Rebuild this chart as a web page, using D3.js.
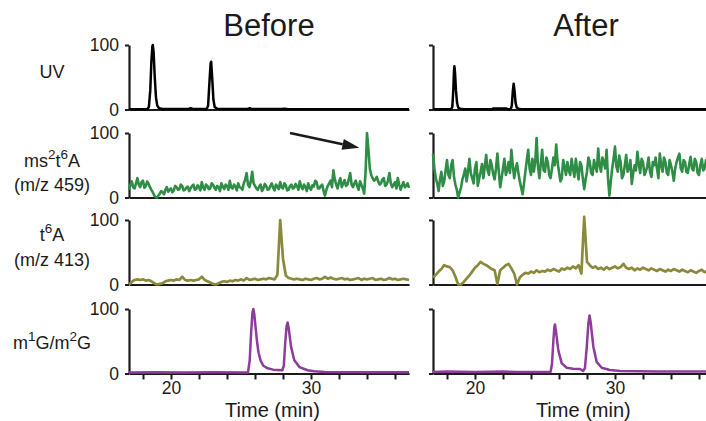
<!DOCTYPE html>
<html>
<head>
<meta charset="utf-8">
<script src="https://cdn.jsdelivr.net/npm/d3@7"></script>
<style>
body { margin: 0; background: #fff; }
svg { display: block; font-family: "Liberation Sans", Arial, sans-serif; }
</style>
</head>
<body>
<svg id="chart" width="706" height="421"></svg>
<script>
/* global d3, document */

// MS traces are read on a fixed time grid (min)
var gridStart = 17;
var fineStep = 0.1;
var coarseStep = 0.2;

// UV and m1G/m2G traces: [time, relative intensity]
var uvBefore = [[17,0.5],[18.3,0.5],[18.42,4],[18.52,30],[18.6,75],[18.67,98],[18.7,100],[18.76,88],[18.84,50],[18.93,18],[19.02,6],[19.15,2],[19.4,0.8],[21.2,0.6],[21.4,2],[21.6,0.6],[22.55,0.6],[22.65,6],[22.74,40],[22.83,72],[22.87,74],[22.94,50],[23.03,15],[23.12,4],[23.3,1],[25.45,0.6],[25.62,2],[25.8,0.6],[27.9,0.6],[28.1,1.2],[28.3,0.6],[37,0.5]];
var uvAfter = [[17,0.5],[18.3,0.5],[18.38,4],[18.45,30],[18.5,60],[18.53,67],[18.57,58],[18.64,30],[18.72,10],[18.8,3],[18.95,1],[19.2,0.5],[21.25,0.5],[21.3,1.5],[22.25,1.5],[22.3,0.5],[22.55,0.6],[22.63,6],[22.7,28],[22.76,40],[22.82,30],[22.9,10],[22.98,3],[23.1,1],[23.3,0.5],[37,0.5]];

var m1gBefore = [[17,1.5],[19,2],[21,1.5],[23,2],[25.5,1.5],[25.62,20],[25.72,62],[25.82,95],[25.88,100],[25.95,92],[26.04,72],[26.14,50],[26.25,33],[26.4,20],[26.6,12],[26.9,8],[27.3,6],[27.95,5],[28.06,12],[28.16,48],[28.26,74],[28.33,79],[28.41,70],[28.57,42],[28.8,21],[29.17,10],[29.76,5],[30.24,3.5],[31,2.5],[34,2],[37,2]];
var m1gAfter = [[17,2.5],[18,3],[20,2.5],[22,3],[23,2.5],[25.4,2.5],[25.5,15],[25.6,52],[25.67,72],[25.71,76],[25.78,66],[25.95,36],[26.19,16],[26.55,9],[27.0,7.5],[27.5,7],[27.72,4],[27.85,8],[27.98,40],[28.1,78],[28.18,90],[28.26,80],[28.45,42],[28.69,18],[29.05,9],[29.64,5.5],[30.36,4],[33,3],[37,3]];

// ms2t6A (m/z 459), 0.1 min grid
var ms459Before = [
  12,20, 25,16, 14,22, 30,20, 16,24, 26,15, 18,25, 21,16, 12,8, 3,1,
  0,3, 6,10, 8,5, 12,16, 9,12, 14,8, 11,18, 16,12, 13,20, 18,11,
  12,15, 17,10, 14,18, 20,12, 13,19, 16,11, 24,15, 12,20, 18,13, 14,22,
  20,15, 12,18, 16,10, 22,17, 13,20, 18,12, 26,16, 14,20, 17,11, 22,16,
  15,12, 22,28, 38,20, 16,25, 40,22, 18,14, 12,17, 20,10, 14,21, 18,12,
  13,18, 22,15, 11,20, 17,13, 24,16, 14,22, 19,11, 12,18, 20,14, 15,21,
  18,12, 25,17, 13,20, 16,10, 22,15, 12,19, 17,26, 24,14, 14,18, 20,10,
  3,12, 18,22, 26,16, 42,28, 20,14, 24,30, 16,22, 27,18, 20,28, 38,20,
  16,22, 26,18, 12,25, 20,14, 6,40, 100,75, 45,35, 30,26, 28,32, 25,20,
  22,28, 30,18, 20,26, 38,22, 16,20, 24,14, 30,20, 12,18, 24,16, 18,22,
  15
];
var ms459After = [
  68,45, 30,22, 10,28, 40,18, 25,42, 58,35, 30,50, 58,32, 20,12, 0,8,
  15,28, 35,45, 25,40, 60,38, 30,22, 45,55, 18,30, 40,52, 30,48, 66,42,
  35,58, 50,36, 28,45, 68,40, 16,30, 45,60, 35,42, 55,38, 74,50, 30,44,
  53,38, 25,15, 5,22, 40,58, 74,45, 35,60, 40,55, 92,48, 30,52, 74,42,
  40,62, 55,35, 30,45, 62,50, 82,55, 40,25, 30,58, 48,35, 55,42, 35,60,
  45,32, 60,42, 28,55, 50,30, 13,28, 40,62, 55,38, 35,58, 48,40, 76,50,
  40,62, 55,45, 74,30, 3,25, 45,60, 79,48, 40,65, 55,30, 35,50, 66,40,
  45,58, 21,38, 50,42, 71,52, 38,60, 55,35, 40,48, 62,40, 32,55, 50,62,
  45,30, 68,50, 40,62, 55,38, 35,58, 50,40, 26,45, 55,62, 68,45, 40,58,
  55,40, 38,52, 63,45, 42,60, 55,38, 35,50, 60,42, 45,58, 52,38, 40,55,
  50
];

// t6A (m/z 413), 0.2 min grid
var ms413Before = [
  0, 4, 7, 8, 7, 8, 6, 7, 5, 2,
  0, 1, 2, 5, 6, 7, 6, 8, 7, 12,
  7, 6, 7, 6, 7, 8, 12, 7, 5, 3,
  1, 0, 2, 4, 5, 4, 6, 5, 7, 6,
  8, 6, 10, 7, 8, 9, 7, 8, 9, 8,
  10, 9, 8, 15, 100, 40, 14, 10, 9, 8,
  9, 8, 7, 9, 8, 7, 9, 10, 8, 9,
  12, 9, 11, 9, 8, 9, 10, 8, 9, 7,
  8, 9, 10, 7, 9, 8, 9, 10, 7, 8,
  9, 7, 8, 10, 8, 9, 7, 8, 9, 8,
  7
];
var ms413After = [
  11, 15, 20, 24, 30, 28, 27, 22, 12, 0,
  0, 4, 9, 14, 20, 26, 30, 35, 32, 30,
  27, 24, 22, 1, 22, 26, 30, 32, 25, 17,
  0, 11, 15, 18, 17, 20, 18, 22, 19, 21,
  20, 23, 21, 24, 22, 20, 25, 23, 26, 24,
  28, 25, 30, 17, 105, 35, 30, 26, 28, 24,
  26, 23, 27, 24, 26, 28, 25, 27, 32, 26,
  24, 26, 22, 25, 23, 26, 24, 22, 25, 23,
  21, 24, 22, 20, 23, 21, 24, 22, 20, 23,
  21, 19, 22, 20, 18, 21, 23, 19, 21, 20,
  20
];

var timeDomain = [17, 37];
var xTicks = [18, 20, 22, 24, 26, 28, 30, 32, 34, 36];
var xTickLabels = [20, 30];
var yTicks = [0, 100];
var panelTitles = ["Before", "After"];

// arrow on the ms2t6A "before" panel, in data units
var arrowFrom = [28.5, 100];
var arrowTo = [33.45, 77];

function gridPoints(values, step) {
    return values.map(function (v, i) { return [gridStart + i * step, v]; });
}

var ink = "#1c1a1b";
var svg = d3.select("#chart");

var cols = [
    { x: d3.scaleLinear().domain(timeDomain).range([129, 409]), titleX: 269, labelX: 272.5 },
    { x: d3.scaleLinear().domain(timeDomain).range([433, 713]), titleX: 586, labelX: 583.3 }
];

var rows = [
    { top: 45, color: "#000000", width: 2.5, series: [uvBefore, uvAfter],
      label: [{ y: 78, parts: [["UV", 0]] }] },
    { top: 133, color: "#2f8d46", width: 2.6,
      series: [gridPoints(ms459Before, fineStep), gridPoints(ms459After, fineStep)],
      label: [{ y: 167, parts: [["ms", 0], ["2", 1], ["t", 0], ["6", 1], ["A", 0]] },
              { y: 191, parts: [["(m/z 459)", 0]] }] },
    { top: 220, color: "#8b8a3c", width: 2.7,
      series: [gridPoints(ms413Before, coarseStep), gridPoints(ms413After, coarseStep)],
      label: [{ y: 241, parts: [["t", 0], ["6", 1], ["A", 0]] },
              { y: 266, parts: [["(m/z 413)", 0]] }] },
    { top: 309, color: "#8e3c9c", width: 2.5, series: [m1gBefore, m1gAfter],
      label: [{ y: 349, parts: [["m", 0], ["1", 1], ["G/m", 0], ["2", 1], ["G", 0]] }] }
];
var rowH = 64.5;

function styleAxis(g) {
    g.attr("font-size", null).attr("font-family", null);
    g.select(".domain").attr("stroke", ink).attr("stroke-width", 2.2);
    g.selectAll(".tick line").attr("stroke", ink).attr("stroke-width", 2);
    g.selectAll("text").attr("font-size", 17.5).attr("fill", ink);
}

// panel titles
cols.forEach(function (c, ci) {
    svg.append("text")
        .attr("x", c.titleX).attr("y", 36)
        .attr("text-anchor", "middle")
        .attr("font-size", 31).attr("fill", ink)
        .text(panelTitles[ci]);
});

rows.forEach(function (r, ri) {
    var y = d3.scaleLinear().domain([0, 100]).range([r.top + rowH, r.top]);
    var last = ri === rows.length - 1;

    // row label
    r.label.forEach(function (line) {
        var t = svg.append("text")
            .attr("x", 52).attr("y", line.y)
            .attr("text-anchor", "middle")
            .attr("font-size", 18).attr("fill", ink);
        var up = false;
        line.parts.forEach(function (p) {
            var dy = 0;
            if (p[1] && !up) { dy = -8; up = true; }
            else if (!p[1] && up) { dy = 8; up = false; }
            t.append("tspan").attr("dy", dy)
                .attr("font-size", p[1] ? 13.5 : null)
                .text(p[0]);
        });
    });

    cols.forEach(function (c, ci) {
        svg.append("g")
            .attr("transform", "translate(0," + y(0) + ")")
            .call(d3.axisBottom(c.x)
                .tickValues(last ? xTicks : [])
                .tickSize(6).tickSizeOuter(0).tickPadding(2)
                .tickFormat(function (d) { return xTickLabels.indexOf(d) >= 0 ? d : ""; }))
            .call(styleAxis);

        svg.append("g")
            .attr("transform", "translate(" + c.x.range()[0] + ",0)")
            .call(d3.axisLeft(y)
                .tickValues(yTicks)
                .tickSize(4).tickSizeOuter(0).tickPadding(6)
                .tickFormat(ci === 0 ? d3.format("d") : function () { return ""; }))
            .call(styleAxis);

        var line = d3.line()
            .x(function (d) { return c.x(d[0]); })
            .y(function (d) { return y(d[1]); });

        svg.append("path")
            .datum(r.series[ci])
            .attr("fill", "none")
            .attr("stroke", r.color)
            .attr("stroke-width", r.width)
            .attr("stroke-linejoin", "round")
            .attr("d", line);

        if (last) {
            svg.append("text")
                .attr("x", c.labelX).attr("y", 417)
                .attr("text-anchor", "middle")
                .attr("font-size", 20).attr("fill", ink)
                .text("Time (min)");
        }

        if (ri === 1 && ci === 0) {
            var x1 = c.x(arrowFrom[0]), y1 = y(arrowFrom[1]);
            var x2 = c.x(arrowTo[0]), y2 = y(arrowTo[1]);
            var ang = Math.atan2(y2 - y1, x2 - x1);
            var headLen = 17, headW = 5.5;
            var bx = x2 - headLen * Math.cos(ang), by = y2 - headLen * Math.sin(ang);
            svg.append("line")
                .attr("x1", x1).attr("y1", y1).attr("x2", bx).attr("y2", by)
                .attr("stroke", ink).attr("stroke-width", 2.5);
            svg.append("path")
                .attr("fill", ink)
                .attr("d", "M" + x2 + "," + y2 +
                    "L" + (bx + headW * Math.sin(ang)) + "," + (by - headW * Math.cos(ang)) +
                    "L" + (bx - headW * Math.sin(ang)) + "," + (by + headW * Math.cos(ang)) + "Z");
        }
    });
});
</script>
</body>
</html>
